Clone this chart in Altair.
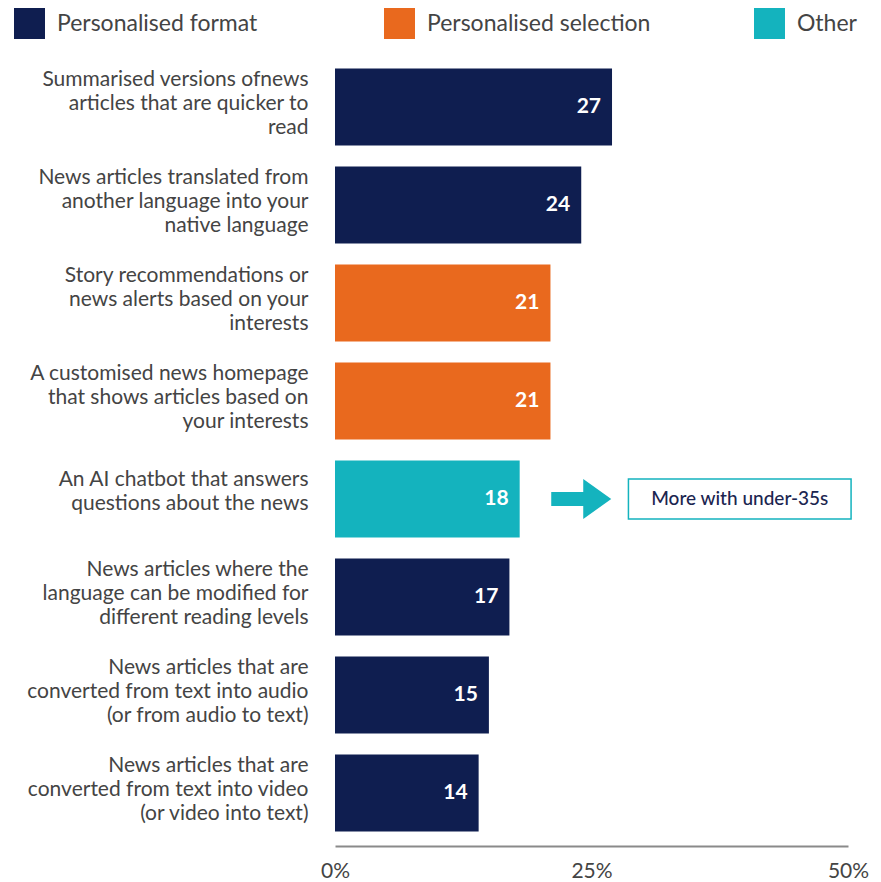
import altair as alt
import pandas as pd

labels = [
    "Summarised versions ofnews|articles that are quicker to|read",
    "News articles translated from|another language into your|native language",
    "Story recommendations or|news alerts based on your|interests",
    "A customised news homepage|that shows articles based on|your interests",
    "An AI chatbot that answers|questions about the news",
    "News articles where the|language can be modified for|different reading levels",
    "News articles that are|converted from text into audio|(or from audio to text)",
    "News articles that are|converted from text into video|(or video into text)",
]
values = [27, 24, 21, 21, 18, 17, 15, 14]
groups = [
    "Personalised format", "Personalised format",
    "Personalised selection", "Personalised selection",
    "Other",
    "Personalised format", "Personalised format", "Personalised format",
]
group_names = ["Personalised format", "Personalised selection", "Other"]
group_colors = ["#0f1e50", "#e9691e", "#14b3be"]

note_row = labels[4]
note_text = "More with under-35s"
arrow_at = 24.0
box_from = 28.6
box_to = 50.3
tick_values = [0, 25, 50]

FONT = "Lato"
TEAL = "#14b3be"

df = pd.DataFrame({"label": labels, "value": values, "group": groups})
ann = pd.DataFrame({
    "label": [note_row],
    "ax": [arrow_at],
    "x1": [box_from],
    "x2": [box_to],
    "tx": [(box_from + box_to) / 2],
    "t": [note_text],
})

y_enc = alt.Y(
    "label:N",
    sort=labels,
    scale=alt.Scale(paddingInner=0.214, paddingOuter=0.107),
    axis=alt.Axis(
        title=None,
        labelExpr="split(datum.label, '|')",
        labelFontSize=21,
        labelLineHeight=24,
        labelFont=FONT,
        labelColor="#444444",
        labelPadding=27,
        labelLimit=400,
        labelOffset={
            "condition": {"test": "length(split(datum.value, '|')) > 2", "value": -27},
            "value": -19,
        },
        ticks=False,
        domain=False,
    ),
)
x_enc = alt.X(
    "value:Q",
    scale=alt.Scale(domain=[0, 50], nice=False),
    axis=alt.Axis(
        title=None,
        values=tick_values,
        labelExpr="datum.value + '%'",
        grid=False,
        ticks=False,
        domainColor="#8a8a8a",
        domainWidth=2,
        offset=4,
        labelFontSize=21,
        labelFont=FONT,
        labelColor="#444444",
        labelPadding=14,
        labelFlush=False,
    ),
)

bars = alt.Chart(df).mark_bar().encode(
    x=x_enc,
    y=y_enc,
    color=alt.Color(
        "group:N",
        scale=alt.Scale(domain=group_names, range=group_colors),
        legend=alt.Legend(
            title=None,
            orient="none",
            legendX=-321,
            legendY=-50,
            direction="horizontal",
            columns=3,
            gridAlign="all",
            columnPadding=103,
            symbolType="square",
            symbolSize=961,
            symbolStrokeWidth=0,
            symbolOpacity=1,
            labelFontSize=23,
            labelFont=FONT,
            labelColor="#444444",
            labelOffset=12,
            labelLimit=400,
        ),
    ),
)

value_text = alt.Chart(df).mark_text(
    align="right", dx=-11, color="white", fontSize=21, fontWeight="bold", font=FONT
).encode(
    x=alt.X("value:Q"),
    y=alt.Y("label:N", sort=labels),
    text="value:Q",
)

arrow_path = "M-1.5,-0.35 L0.1,-0.35 L0.1,-1 L1.5,0 L0.1,1 L0.1,0.35 L-1.5,0.35 Z"
arrow = alt.Chart(ann).mark_point(
    shape=arrow_path, size=1600, filled=True, fill=TEAL, opacity=1, strokeWidth=0
).encode(
    x=alt.X("ax:Q"),
    y=alt.Y("label:N", sort=labels),
)

box = alt.Chart(ann).mark_bar(
    height=40, fill="white", stroke=TEAL, strokeWidth=1.5
).encode(
    x=alt.X("x1:Q"),
    x2="x2:Q",
    y=alt.Y("label:N", sort=labels),
)

note = alt.Chart(ann).mark_text(
    fontSize=19, color="#1b2550", font=FONT, fontWeight=500
).encode(
    x=alt.X("tx:Q"),
    y=alt.Y("label:N", sort=labels),
    text="t:N",
)

chart = alt.layer(bars, value_text, arrow, box, note).properties(
    width=513,
    height=784,
    autosize=alt.AutoSizeParams(type="none"),
    padding={"left": 327, "top": 50, "right": 25, "bottom": 40},
).configure_view(stroke=None)

chart.save("out.html", embed_options={"renderer": "svg", "actions": False})
